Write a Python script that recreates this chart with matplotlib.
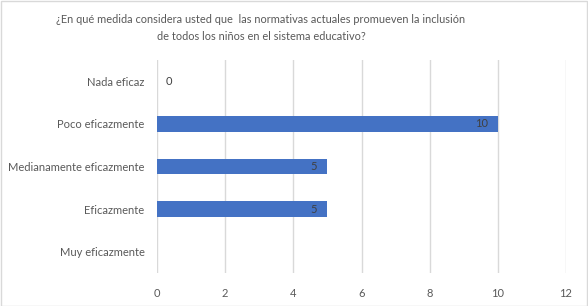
import numpy as np
import matplotlib
matplotlib.use("Agg")
import matplotlib.pyplot as plt
from matplotlib.patches import Rectangle

categories = ["Nada eficaz", "Poco eficazmente", "Medianamente eficazmente",
              "Eficazmente", "Muy eficazmente"]
values = [0, 10, 5, 5, np.nan]
xticks = [0, 2, 4, 6, 8, 10, 12]
title_lines = ["¿En qué medida considera usted que  las normativas actuales promueven la inclusión",
               "de todos los niños en el sistema educativo?"]

plt.rcParams['font.family'] = ['Lato', 'DejaVu Sans']
txt = '#595959'
bar_color = '#4472C4'

fig = plt.figure(figsize=(5.88, 3.06), dpi=100)
ax = fig.add_axes([157 / 588, 1 - 273 / 306, (566 - 157) / 588, (273 - 60) / 306])

y = np.arange(len(categories))
vals = np.array(values, dtype=float)
ax.barh(y, np.nan_to_num(vals), height=0.36, color=bar_color, zorder=3)

for yi, v in zip(y, vals):
    if np.isnan(v):
        continue
    if v == 0:
        ax.text(0.25, yi, f"{v:g}", ha='left', va='center', fontsize=8, color='#404040')
    else:
        ax.text(v - 0.3, yi, f"{v:g}", ha='right', va='center', fontsize=8, color='#404040')

ax.set_xlim(0, 12)
ax.set_ylim(len(categories) - 0.5, -0.5)
ax.set_xticks(xticks)
ax.set_yticks(y)
ax.set_yticklabels(categories)
ax.tick_params(axis='both', length=0, labelsize=8, colors=txt)
ax.tick_params(axis='x', pad=11)
ax.tick_params(axis='y', pad=9)
ax.grid(axis='x', color='#d9d9d9', linewidth=1, zorder=0)
for s in ax.spines.values():
    s.set_visible(False)

for i, line in enumerate(title_lines):
    fig.text(261 / 588, 1 - (19.5 + 16.5 * i) / 306, line,
             ha='center', va='center', fontsize=7.95, color=txt)

fig.patches.append(Rectangle((0.5 / 588, 0.5 / 306), 1 - 1.5 / 588, 1 - 1.5 / 306,
                             transform=fig.transFigure, fill=False,
                             edgecolor='#d9d9d9', linewidth=1))

fig.savefig("out.png", dpi=100)
